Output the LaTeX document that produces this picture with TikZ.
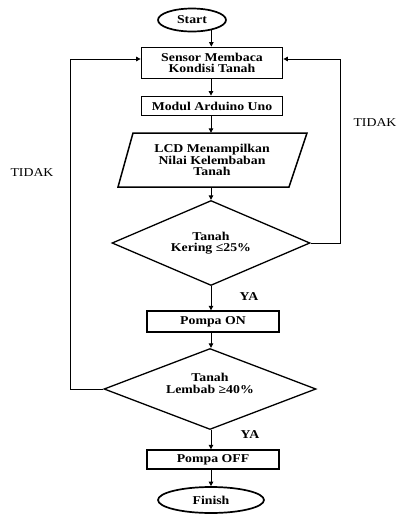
\documentclass[tikz,border=0pt]{standalone}
\usepackage{fontspec}
\setmainfont{Liberation Serif}[FakeStretch=1.15]
\usetikzlibrary{shapes.geometric,arrows.meta}
\begin{document}
\begin{tikzpicture}[x=1pt,y=-1pt,
  font=\fontsize{12}{11.5}\selectfont\bfseries,
  box/.style={draw,rectangle,inner sep=0pt,align=center},
  term/.style={draw,ellipse,inner sep=0pt,line width=1.7pt},
  dec/.style={draw,diamond,inner sep=0pt,align=center,line width=1.3pt,shape aspect=2.4},
  arr/.style={-{Triangle[length=4.5pt,width=4.5pt]},line width=1pt},
  lbl/.style={inner sep=0pt,font=\fontsize{12}{12}\selectfont}
]
\useasboundingbox[fill=white] (0,0) rectangle (398,515);

\node[term,minimum width=68pt,minimum height=23pt] (start) at (192,20) {Start};
\node[box,line width=1.8pt,minimum width=141pt,minimum height=31pt] (sensor) at (212,63) {Sensor Membaca\\Kondisi Tanah};
\node[box,line width=1.8pt,minimum width=141pt,minimum height=19pt] (modul) at (212,106) {Modul Arduino Uno};
\draw[line width=1.5pt] (133,133) -- (307,133) -- (289,187) -- (118,187) -- cycle;
\node[inner sep=0pt,minimum width=150pt,minimum height=54pt,align=center] (lcd) at (212,160) {LCD Menampilkan\\Nilai Kelembaban\\Tanah};
\node[dec,minimum width=198pt,minimum height=85pt] (d1) at (211,243) {Tanah\\Kering ≤25\%};
\node[inner sep=0pt] (ya1) at (249,297) {YA};
\node[box,line width=1.4pt,minimum width=132pt,minimum height=21pt] (pon) at (213,321.5) {Pompa ON};
\node[dec,minimum width=212pt,minimum height=81pt] (d2) at (210,389) {Tanah\\Lembab ≥40\%\\\mbox{}};
\node[inner sep=0pt] (ya2) at (250,435) {YA};
\node[box,line width=1.4pt,minimum width=132pt,minimum height=19pt] (poff) at (213,459.5) {Pompa OFF};
\node[term,minimum width=106pt,minimum height=26pt] (finish) at (211,500) {Finish};

\node[lbl] (tidakR) at (375,123) {TIDAK};
\node[lbl] (tidakL) at (32,173) {TIDAK};

\coordinate (col) at (211,0);
\coordinate (rloop) at (340,59);
\coordinate (lloop) at (70,59);

\draw[arr] (start.-28.5) -- (start.-28.5 |- sensor.north);
\draw[arr] (sensor.south -| col) -- (modul.north -| col);
\draw[arr] (modul.south -| col) -- (lcd.north -| col);
\draw[arr] (lcd.south -| col) -- (d1.north -| col);
\draw[arr] (d1.south -| col) -- (pon.north -| col);
\draw[arr] (pon.south -| col) -- (d2.north -| col);
\draw[arr] (d2.south -| col) -- (poff.north -| col);
\draw[arr] (poff.south -| col) -- (finish.north -| col);
\draw[arr] (d1.east) -| (rloop) -- (sensor.east |- rloop);
\draw[arr] (d2.west) -| (lloop) -- (sensor.west |- lloop);
\end{tikzpicture}
\end{document}
